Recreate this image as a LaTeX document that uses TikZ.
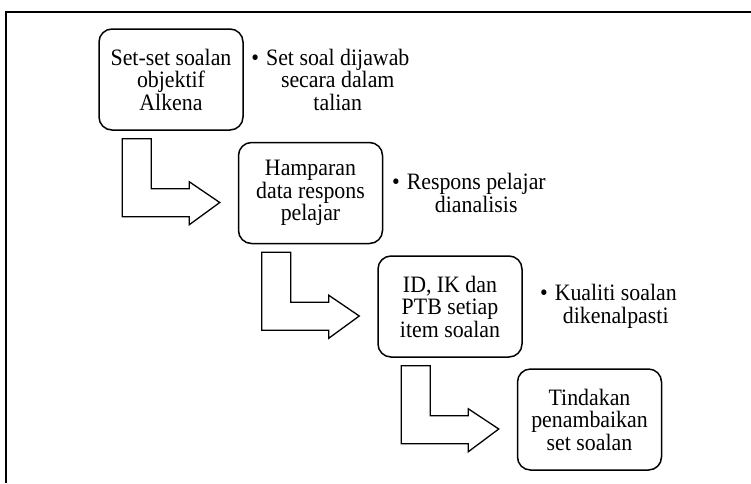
\documentclass[tikz,border=0pt]{standalone}
\usepackage{fontspec}
\setmainfont[FakeStretch=0.93]{Liberation Serif}
\usetikzlibrary{calc}
\begin{document}
\begin{tikzpicture}[x=1pt,y=-1pt,
  txt/.style={font=\fontsize{23.5}{22.5}\selectfont},
  stepbox/.style={txt, draw, line width=1.5pt, rounded corners=13pt,
    minimum width=144pt, minimum height=101pt, align=center, inner sep=0pt},
  note/.style={txt, align=center, inner sep=0pt},
  bentarrow/.style={draw, line width=1.3pt, line join=miter}]
\useasboundingbox (0,0) rectangle (751,483);
% open frame: top and left edges only
\draw[line width=1.4pt] (6,483) -- (6,12) -- (751,12);

% process steps
\node[stepbox] (b1) at (171,79.5)  {Set-set soalan\\objektif\\Alkena};
\node[stepbox] (b2) at (310.5,193) {Hamparan\\data respons\\pelajar};
\node[stepbox] (b3) at (450,306.5) {ID, IK dan\\PTB setiap\\item soalan};
\node[stepbox] (b4) at (589.5,419.5) {Tindakan\\penambaikan\\set soalan};

% bullet notes beside the steps
\node[note] (n1) at ($(b1.east)+(94,0)$) {\llap{•\hspace{7pt}}Set soal dijawab\\secara dalam\\talian};
\node[note] (n2) at ($(b2.east)+(93,0)$) {\llap{•\hspace{7pt}}Respons pelajar\\dianalisis};
\node[note] (n3) at ($(b3.east)+(93,0)$) {\llap{•\hspace{7pt}}Kualiti soalan\\dikenalpasti};

% bent block arrows leading from one step to the next
\foreach \a/\b in {b1/b2, b2/b3, b3/b4} {
  \draw[bentarrow]
    ($(\a.south west)+(24,8)$) -- ($(\a.south west)+(53,8)$)
    -- ($(\a.south west)+(53,58)$) -- ($(\a.south west)+(91,58)$)
    -- ($(\a.south west)+(91,51)$) -- ($(\b.west)+(-18,9.5)$)
    -- ($(\a.south west)+(91,94)$) -- ($(\a.south west)+(91,86)$)
    -- ($(\a.south west)+(24,86)$) -- cycle;
}
\end{tikzpicture}
\end{document}
